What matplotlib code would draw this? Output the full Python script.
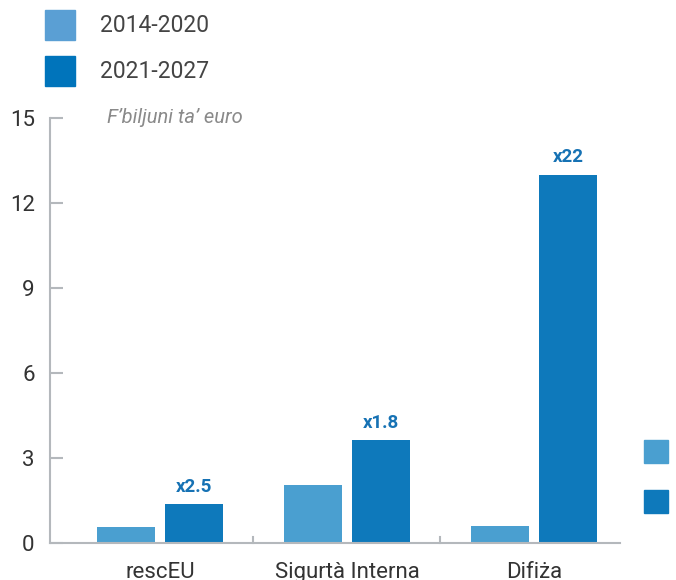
import matplotlib.pyplot as plt
import matplotlib.patches as mpatches
import numpy as np

categories = ['rescEU', 'Sigurtà Interna', 'Difiża']
period_old = [0.56, 2.05, 0.6]
period_new = [1.36, 3.62, 13.0]
multipliers = ['x2.5', 'x1.8', 'x22']
series_names = ['2014-2020', '2021-2027']

c_old = '#4a9fd0'
c_new = '#0e79bb'
axis_col = '#b4b8bc'
text_col = '#333333'

plt.rcParams['font.family'] = ['Roboto', 'DejaVu Sans']

fig = plt.figure(figsize=(6.76, 5.8), dpi=100)
ax = fig.add_axes([0.074, 0.0638, 0.843, 0.733])

x = np.arange(len(categories))
w = 0.31
off = 0.182
ax.bar(x - off, period_old, w, color=c_old)
ax.bar(x + off, period_new, w, color=c_new)

for xi, v, m in zip(x, period_new, multipliers):
    ax.text(xi + off, v + 0.3, m, ha='center', va='bottom', fontsize=13.5,
            fontweight='bold', color='#1672b4')

ax.set_xlim(-0.588, 2.46)
ax.set_ylim(0, 15)
ax.set_yticks([0, 3, 6, 9, 12, 15])
ax.tick_params(axis='y', direction='in', length=9, width=1.5, color=axis_col,
               labelsize=16, labelcolor=text_col, pad=11)

ax.set_xticks(x)
ax.set_xticklabels(categories, fontsize=16, color=text_col)
ax.tick_params(axis='x', length=0, pad=14)
for sep in [0.5, 1.5]:
    ax.plot([sep, sep], [0, 0.22], color=axis_col, lw=1.5, clip_on=False)

for s in ['top', 'right']:
    ax.spines[s].set_visible(False)
for s in ['left', 'bottom']:
    ax.spines[s].set_color(axis_col)
    ax.spines[s].set_linewidth(1.5)

ax.text(0.10, 15, "F’biljuni ta’ euro", fontsize=14.5, style='italic',
        color='#8a8a8a', va='center', ha='left', transform=ax.get_yaxis_transform())

# legend at top left
for i, (name, col) in enumerate(zip(series_names, ['#5a9fd4', '#0074bb'])):
    y0 = 1 - (40 + i * 46) / 580
    fig.patches.append(mpatches.Rectangle((45 / 676, y0), 30 / 676, 30 / 580,
                                          transform=fig.transFigure, color=col))
    fig.text(100 / 676, y0 + 15 / 580, name, fontsize=16.5, color='#444444', va='center')

# stray legend squares on the right edge
for i, col in enumerate([c_old, c_new]):
    y0 = 1 - (463 + i * 50) / 580
    fig.patches.append(mpatches.Rectangle((644 / 676, y0), 24 / 676, 23 / 580,
                                          transform=fig.transFigure, color=col))

fig.savefig('out.png', dpi=100)
